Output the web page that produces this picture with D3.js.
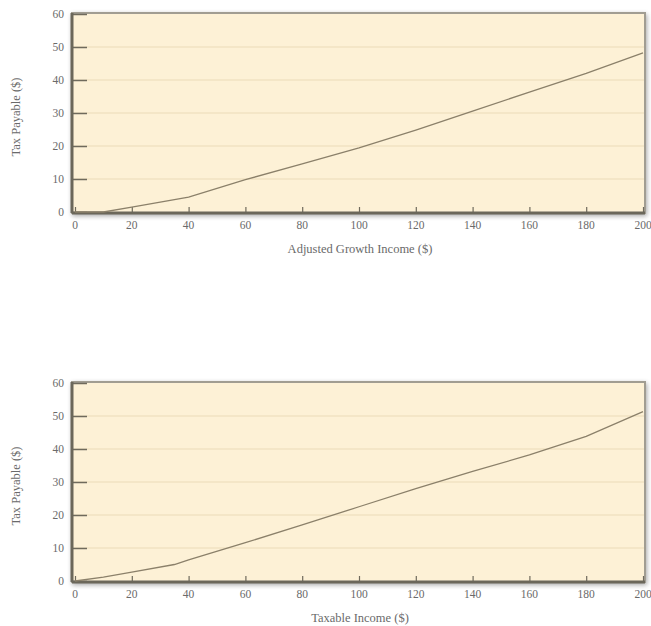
<!DOCTYPE html>
<html>
<head>
<meta charset="utf-8">
<script src="https://cdn.jsdelivr.net/npm/d3@7"></script>
<style>
  html, body { margin: 0; padding: 0; background: #ffffff; }
  svg { display: block; }
  text { font-family: "Liberation Serif", "DejaVu Serif", serif; fill: #6a6a6a; }
</style>
</head>
<body>
<svg id="chart" width="651" height="626"></svg>
<script>
// ---- Data ----
const xTicks = [0, 20, 40, 60, 80, 100, 120, 140, 160, 180, 200];
const yTicks = [0, 10, 20, 30, 40, 50, 60];

const agiIncome = [0, 10, 20, 40, 60, 80, 100, 120, 140, 160, 180, 200];
const agiTax    = [0, 0, 1.5, 4.5, 9.8, 14.6, 19.4, 24.8, 30.6, 36.3, 42, 48.2];

const taxableIncome = [0, 10, 20, 35, 40, 60, 80, 100, 120, 140, 160, 180, 200];
const taxableTax    = [0, 1.2, 2.7, 5, 6.4, 11.6, 17, 22.5, 28, 33.2, 38.2, 43.8, 51.3];

const panels = [
  { income: agiIncome, tax: agiTax, xLabel: "Adjusted Growth Income ($)", yLabel: "Tax Payable ($)", top: 14, bottom: 212 },
  { income: taxableIncome, tax: taxableTax, xLabel: "Taxable Income ($)", yLabel: "Tax Payable ($)", top: 383, bottom: 581 }
];

const svg = d3.select("#chart");
const defs = svg.append("defs");
const f = defs.append("filter").attr("id", "shadow").attr("x", "-5%").attr("y", "-5%").attr("width", "110%").attr("height", "115%");
f.append("feGaussianBlur").attr("in", "SourceAlpha").attr("stdDeviation", 2.5);
f.append("feOffset").attr("dx", 1).attr("dy", 2).attr("result", "ob");
f.append("feComponentTransfer").append("feFuncA").attr("type", "linear").attr("slope", 0.35);
const m = f.append("feMerge");
m.append("feMergeNode");
m.append("feMergeNode").attr("in", "SourceGraphic");

const x = d3.scaleLinear().domain([0, 200]).range([75, 643]);
const plotLeft = 72, plotRight = 645;

panels.forEach(p => {
  const y = d3.scaleLinear().domain([0, 60]).range([p.bottom, p.top]);
  const g = svg.append("g");

  // plot background with shadow
  g.append("rect")
    .attr("x", plotLeft).attr("y", p.top - 1)
    .attr("width", plotRight - plotLeft).attr("height", p.bottom - p.top + 2)
    .attr("fill", "#fdf1d6")
    .attr("stroke", "#a19d92").attr("stroke-width", 2)
    .attr("filter", "url(#shadow)");

  // grid lines
  g.selectAll(".grid").data(yTicks.filter(d => d > 0 && d < 60)).enter()
    .append("line")
    .attr("x1", plotLeft + 1).attr("x2", plotRight - 1)
    .attr("y1", d => y(d)).attr("y2", d => y(d))
    .attr("stroke", "#ecdcb8").attr("stroke-width", 1.2);

  // y-axis (ticks inside, labels outside)
  const yAxis = d3.axisRight(y).tickValues(yTicks).tickSize(15).tickFormat("");
  const ya = g.append("g").attr("transform", `translate(${plotLeft},0)`).call(yAxis);
  ya.select(".domain").remove();
  ya.selectAll(".tick line").attr("stroke", "#6f6a5c").attr("stroke-width", 1.5);
  g.selectAll(".ylab").data(yTicks).enter().append("text")
    .attr("x", 64).attr("y", d => y(d) + 4)
    .attr("text-anchor", "end").attr("font-size", 11.5)
    .text(d => d);

  // x-axis ticks (small upward marks)
  const xAxis = d3.axisTop(x).tickValues(xTicks).tickSize(5).tickFormat("");
  const xa = g.append("g").attr("transform", `translate(0,${p.bottom})`).call(xAxis);
  xa.select(".domain").remove();
  xa.selectAll(".tick line").attr("stroke", "#6f6a5c").attr("stroke-width", 1.2);
  g.selectAll(".xlab").data(xTicks).enter().append("text")
    .attr("x", d => x(d)).attr("y", p.bottom + 17)
    .attr("text-anchor", "middle").attr("font-size", 11.5)
    .text(d => d);

  // left and bottom axis lines (dark, thick)
  g.append("line").attr("x1", plotLeft).attr("x2", plotLeft)
    .attr("y1", p.top - 1).attr("y2", p.bottom + 1)
    .attr("stroke", "#6b675a").attr("stroke-width", 3);
  g.append("line").attr("x1", plotLeft).attr("x2", plotRight)
    .attr("y1", p.bottom + 1).attr("y2", p.bottom + 1)
    .attr("stroke", "#6b675a").attr("stroke-width", 3);

  // data line
  const pts = p.income.map((v, i) => [v, p.tax[i]]);
  g.append("path").datum(pts)
    .attr("fill", "none").attr("stroke", "#8b806a").attr("stroke-width", 1.3)
    .attr("d", d3.line().x(d => x(d[0])).y(d => y(d[1])));

  // labels
  g.append("text")
    .attr("x", 360).attr("y", p.bottom + 41)
    .attr("text-anchor", "middle").attr("font-size", 12.5)
    .text(p.xLabel);
  g.append("text")
    .attr("transform", `translate(20,${(p.top + p.bottom) / 2 + 4}) rotate(-90)`)
    .attr("text-anchor", "middle").attr("font-size", 12.5)
    .text(p.yLabel);
});
</script>
</body>
</html>
